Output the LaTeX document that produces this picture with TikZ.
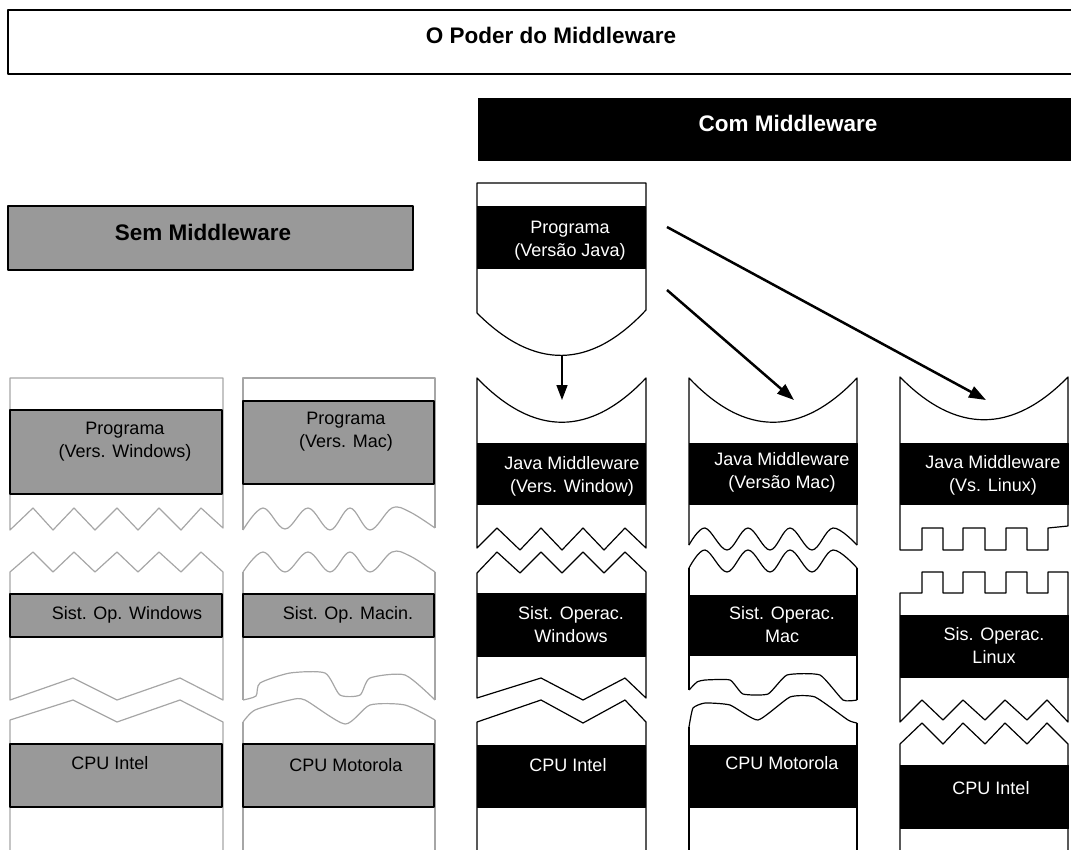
\documentclass[tikz,border=0pt]{standalone}
\usepackage{fontspec}
\setmainfont{Liberation Sans}
\usetikzlibrary{arrows.meta}
\definecolor{boxgray}{HTML}{999999}
\definecolor{edgegray}{HTML}{A6A6A6}

\begin{document}
\begin{tikzpicture}[x=1pt, y=-1pt, line join=round,
        gray_line/.style={draw=edgegray, line width=1.2pt},
        black_line/.style={draw=black, line width=1.2pt},
        gray_box/.style={draw=black, line width=1.5pt, fill=boxgray},
        black_box/.style={draw=black, line width=1pt, fill=black},
        small_text/.style={font=\fontsize{18}{23}\selectfont, align=center, inner sep=0pt},
        white_text/.style={small_text, text=white},
        head_text/.style={font=\fontsize{22.5}{27}\selectfont\bfseries, inner sep=0pt},
        edge_style/.style={draw=black, line width=2.5pt, -{Triangle[length=17pt, width=12pt]}},
        down_edge_style/.style={draw=black, line width=1.5pt, -{Triangle[length=15pt, width=11pt]}}]

        \useasboundingbox (0,0) rectangle (1071,849);
        \clip (0,0) rectangle (1071,849);

        % headers
        \draw [draw=black, line width=2.5pt, fill=white] (8,10) rectangle (1085,74);
        \node [head_text] (title) at (551,35) {O Poder do Middleware};

        \draw [black_box] (478,98) rectangle (1085,160);
        \node [head_text, text=white] (com) at (788,123) {Com Middleware};

        \draw [gray_box, line width=2pt] (8,206) rectangle (413,270);
        \node [head_text] (sem) at (203,232) {Sem Middleware};

        % sem middleware - windows
        \draw [gray_line] (10,530) -- (10,378) -- (223,378) -- (223,528) -- (201,508) -- (181,530) -- (159,508) -- (138,530) -- (117,508) -- (95,530) -- (74,508) -- (53,530) -- (33,508) -- cycle;
        \draw [gray_line] (10,572) -- (33,552) -- (53,572) -- (74,552) -- (95,572) -- (117,552) -- (138,572) -- (159,552) -- (181,572) -- (201,552) -- (223,572) -- (223,700) -- (180,678) -- (117,700) -- (73,678) -- (10,700) -- cycle;
        \draw [gray_line] (10,855) -- (10,720) -- (73,700) -- (117,722) -- (180,700) -- (223,722) -- (223,855);

        \draw [gray_box] (10,410) rectangle (222,494);
        \node [small_text] (progwin) at (125,442) {Programa\\(Vers. Windows)};
        \draw [gray_box] (10,594) rectangle (222,637);
        \node [small_text] (soswin) at (127,615) {Sist. Op. Windows};
        \draw [gray_box] (10,744) rectangle (222,807);
        \node [small_text] (cpuwin) at (110,763) {CPU Intel};

        % sem middleware - mac
        \draw [gray_line] (243,530) -- (243,378) -- (435,378) -- (435,528);
        \draw [gray_line] plot[smooth, tension=0.6] coordinates {(243,530) (263,508) (285,529) (308,508) (330,530) (350,508) (370,530) (392,508) (410,512) (435,528)};
        \draw [gray_line] plot[smooth, tension=0.6] coordinates {(243,572) (263,552) (285,572) (308,552) (330,572) (350,552) (370,572) (392,552) (410,556) (435,572)};
        \draw [gray_line] (243,572) -- (243,700);
        \draw [gray_line] (435,572) -- (435,700);
        \draw [gray_line] plot[smooth, tension=0.4] coordinates {(243,700) (256,696) (260,683) (290,673) (325,673) (340,695) (360,695) (370,678) (405,675) (435,700)};
        \draw [gray_line] plot[smooth, tension=0.4] coordinates {(243,722) (255,710) (290,700) (305,700) (345,724) (370,705) (405,705) (435,720)};
        \draw [gray_line] (243,722) -- (243,855);
        \draw [gray_line] (435,720) -- (435,855);

        \draw [gray_box] (243,401) rectangle (434,484);
        \node [small_text] (progmac) at (346,432) {Programa\\(Vers. Mac)};
        \draw [gray_box] (243,594) rectangle (434,637);
        \node [small_text] (sosmac) at (348,615) {Sist. Op. Macin.};
        \draw [gray_box] (243,744) rectangle (434,807);
        \node [small_text] (cpumac) at (346,765) {CPU Motorola};

        % com middleware - programa java
        \draw [black_line] (477,313) -- (477,183) -- (646,183) -- (646,310) .. controls (590,370) and (534,370) .. cycle;
        \draw [black_box] (477,206) rectangle (645,268);
        \node [white_text] (progjava) at (570,241) {Programa\\(Versão Java)};

        % com middleware - windows
        \draw [black_line] (477,548) -- (477,378) .. controls (534,437) and (590,437) .. (646,378) -- (646,548) -- (625,528) -- (604,550) -- (583,528) -- (562,550) -- (541,528) -- (520,550) -- (497,528) -- cycle;
        \draw [black_line] (477,573) -- (497,552) -- (520,573) -- (541,552) -- (562,573) -- (583,552) -- (604,573) -- (625,552) -- (646,572) -- (646,698) -- (625,678) -- (583,700) -- (541,678) -- (477,698) -- cycle;
        \draw [black_line] (477,855) -- (477,722) -- (541,700) -- (583,723) -- (625,700) -- (646,722) -- (646,855);

        \draw [black_box] (477,443) rectangle (645,504);
        \node [white_text] (mwwin) at (572,476) {Java Middleware\\(Vers. Window)};
        \draw [black_box] (477,593) rectangle (645,656);
        \node [white_text] (oswin) at (571,625) {Sist. Operac.\\Windows};
        \draw [black_box] (477,745) rectangle (645,807);
        \node [white_text] (cpuintelwin) at (568,765) {CPU Intel};

        % com middleware - mac
        \draw [black_line] (689,545) -- (689,378) .. controls (745,437) and (801,437) .. (857,378) -- (857,545);
        \draw [black_line] plot[smooth, tension=0.6] coordinates {(689,545) (705,528) (727,550) (748,528) (770,550) (790,528) (812,550) (833,528) (857,545)};
        \draw [black_line] plot[smooth, tension=0.6] coordinates {(689,568) (705,550) (727,572) (748,550) (770,572) (790,550) (812,572) (833,550) (857,568)};
        \draw [black_line] (689,568) -- (689,690);
        \draw [black_line] (857,568) -- (857,700);
        \draw [black_line] plot[smooth, tension=0.3] coordinates {(689,690) (697,682) (705,680) (730,680) (743,694) (768,694) (787,675) (820,675) (843,700) (857,700)};
        \draw [black_line] plot[smooth, tension=0.3] coordinates {(689,727) (693,708) (705,703) (730,705) (758,720) (790,697) (815,697) (848,720) (857,723)};
        \draw [black_line] (689,727) -- (689,855);
        \draw [black_line] (857,723) -- (857,855);

        \draw [black_box] (689,443) rectangle (857,504);
        \node [white_text] (mwmac) at (782,472) {Java Middleware\\(Versão Mac)};
        \draw [black_box] (689,595) rectangle (857,655);
        \node [white_text] (osmac) at (782,625) {Sist. Operac.\\Mac};
        \draw [black_box] (689,745) rectangle (857,807);
        \node [white_text] (cpumotmac) at (782,763) {CPU Motorola};

        % com middleware - linux
        \draw [black_line] (900,550) -- (900,377) .. controls (956,434) and (1012,434) .. (1068,377) -- (1068,526) -- (1048,528) -- (1048,550) -- (1027,550) -- (1027,528) -- (1006,528) -- (1006,550) -- (985,550) -- (985,528) -- (963,528) -- (963,550) -- (943,550) -- (943,528) -- (922,528) -- (922,550) -- cycle;
        \draw [black_line] (900,593) -- (922,593) -- (922,572) -- (943,572) -- (943,593) -- (963,593) -- (963,572) -- (985,572) -- (985,593) -- (1006,593) -- (1006,572) -- (1027,572) -- (1027,593) -- (1048,593) -- (1048,572) -- (1068,572) -- (1068,722) -- (1047,700) -- (1027,720) -- (1005,700) -- (985,720) -- (963,700) -- (943,720) -- (922,700) -- (900,722) -- cycle;
        \draw [black_line] (900,855) -- (900,744) -- (922,723) -- (943,744) -- (963,723) -- (985,744) -- (1005,723) -- (1027,744) -- (1047,723) -- (1068,744) -- (1068,855);

        \draw [black_box] (900,443) rectangle (1068,504);
        \node [white_text] (mwlinux) at (993,475) {Java Middleware\\(Vs. Linux)};
        \draw [black_box] (900,615) rectangle (1068,677);
        \node [white_text] (oslinux) at (994,646) {Sis. Operac.\\Linux};
        \draw [black_box] (900,765) rectangle (1068,828);
        \node [white_text] (cpuintellinux) at (991,788) {CPU Intel};

        % arrows
        \coordinate (progtip) at (562,355);
        \coordinate (javaout1) at (667,227);
        \coordinate (javaout2) at (667,290);
        \coordinate (wintarget) at (562,400);
        \coordinate (mactarget) at (794,400);
        \coordinate (linuxtarget) at (986,400);

        \draw [down_edge_style] (progtip) -- (wintarget);
        \draw [edge_style] (javaout2) -- (mactarget);
        \draw [edge_style] (javaout1) -- (linuxtarget);

\end{tikzpicture}
\end{document}
